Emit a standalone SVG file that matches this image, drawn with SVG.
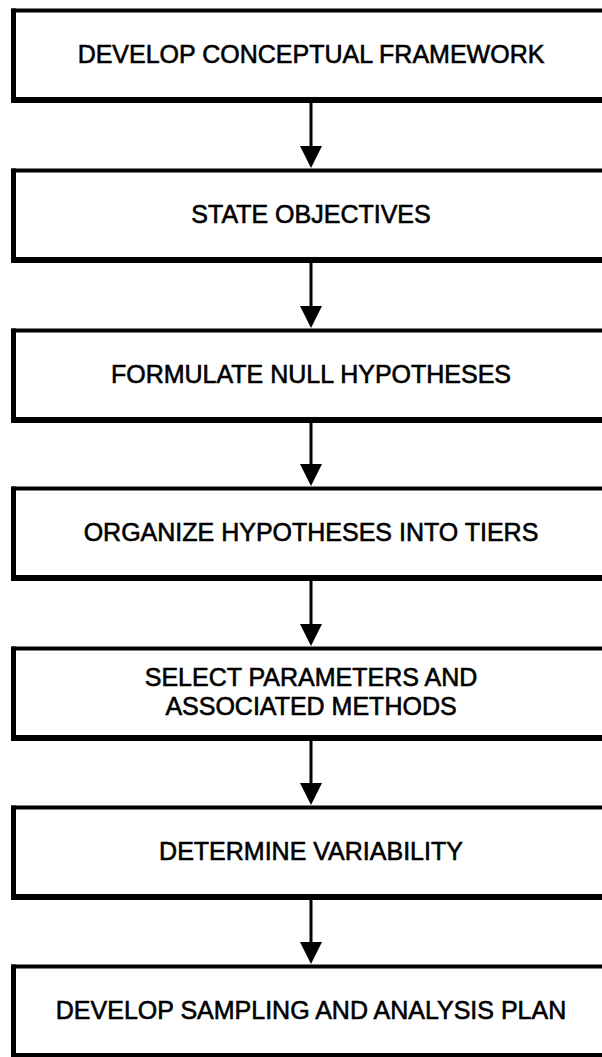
<svg xmlns="http://www.w3.org/2000/svg" width="602" height="1057" viewBox="0 0 602 1057">
  <style>
    .box { fill: #ffffff; stroke: #000000; stroke-width: 4; }
    .base { stroke: #000000; stroke-width: 6; }
    .side { stroke: #000000; stroke-width: 5; }
    .label { font-family: "Liberation Sans", Arial, sans-serif; font-size: 25px; fill: #000000; stroke: #000000; stroke-width: 0.6; text-anchor: middle; }
    .link { stroke: #000000; stroke-width: 3; fill: none; }
    .head { fill: #000000; }
  </style>
  <rect x="0" y="0" width="602" height="1057" fill="#ffffff"/>

  <!-- connectors: arrow runs down from each box into the next one -->
  <g id="connectors">
    <line class="link" x1="311" y1="103" x2="311" y2="148"/>
    <path class="head" d="M300,146 L322,146 L311,168 Z"/>
    <line class="link" x1="311" y1="263" x2="311" y2="308"/>
    <path class="head" d="M300,306 L322,306 L311,328 Z"/>
    <line class="link" x1="311" y1="423" x2="311" y2="466"/>
    <path class="head" d="M300,464 L322,464 L311,486 Z"/>
    <line class="link" x1="311" y1="581" x2="311" y2="626"/>
    <path class="head" d="M300,624 L322,624 L311,646 Z"/>
    <line class="link" x1="311" y1="741" x2="311" y2="785"/>
    <path class="head" d="M300,783 L322,783 L311,805 Z"/>
    <line class="link" x1="311" y1="900" x2="311" y2="944"/>
    <path class="head" d="M300,942 L322,942 L311,964 Z"/>
  </g>

  <!-- process steps -->
  <g id="step1">
    <rect class="box" x="13.5" y="10.5" width="600" height="89"/>
    <line class="side" x1="13.5" y1="8.5" x2="13.5" y2="103"/>
    <line class="base" x1="11" y1="100" x2="602" y2="100"/>
    <text class="label" x="311" y="63">DEVELOP CONCEPTUAL FRAMEWORK</text>
  </g>
  <g id="step2">
    <rect class="box" x="13.5" y="170.5" width="600" height="89"/>
    <line class="side" x1="13.5" y1="168.5" x2="13.5" y2="263"/>
    <line class="base" x1="11" y1="260" x2="602" y2="260"/>
    <text class="label" x="311" y="223">STATE OBJECTIVES</text>
  </g>
  <g id="step3">
    <rect class="box" x="13.5" y="330.5" width="600" height="89"/>
    <line class="side" x1="13.5" y1="328.5" x2="13.5" y2="423"/>
    <line class="base" x1="11" y1="420" x2="602" y2="420"/>
    <text class="label" x="311" y="383">FORMULATE NULL HYPOTHESES</text>
  </g>
  <g id="step4">
    <rect class="box" x="13.5" y="488.5" width="600" height="89"/>
    <line class="side" x1="13.5" y1="486.5" x2="13.5" y2="581"/>
    <line class="base" x1="11" y1="578" x2="602" y2="578"/>
    <text class="label" x="311" y="541">ORGANIZE HYPOTHESES INTO TIERS</text>
  </g>
  <g id="step5">
    <rect class="box" x="13.5" y="648.5" width="600" height="89"/>
    <line class="side" x1="13.5" y1="646.5" x2="13.5" y2="741"/>
    <line class="base" x1="11" y1="738" x2="602" y2="738"/>
    <text class="label" x="311" y="686">SELECT PARAMETERS AND</text>
    <text class="label" x="311" y="715">ASSOCIATED METHODS</text>
  </g>
  <g id="step6">
    <rect class="box" x="13.5" y="807.5" width="600" height="89"/>
    <line class="side" x1="13.5" y1="805.5" x2="13.5" y2="900"/>
    <line class="base" x1="11" y1="897" x2="602" y2="897"/>
    <text class="label" x="311" y="860">DETERMINE VARIABILITY</text>
  </g>
  <g id="step7">
    <rect class="box" x="13.5" y="966.5" width="600" height="89"/>
    <line class="side" x1="13.5" y1="964.5" x2="13.5" y2="1057"/>
    <line class="base" x1="11" y1="1056" x2="602" y2="1056"/>
    <text class="label" x="311" y="1019">DEVELOP SAMPLING AND ANALYSIS PLAN</text>
  </g>
</svg>
